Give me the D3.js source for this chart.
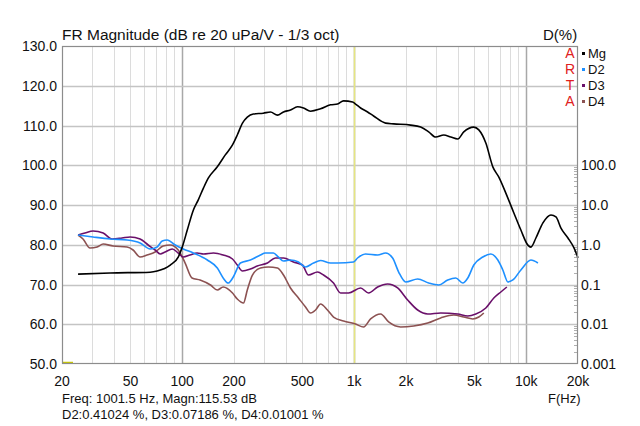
<!DOCTYPE html>
<html><head><meta charset="utf-8">
<script src="https://cdn.jsdelivr.net/npm/d3@7"></script>
<style>body{margin:0;background:#fff}svg{display:block}text{font-family:"Liberation Sans",Arial,sans-serif}</style>
</head><body><svg id="c" width="640" height="426"></svg>
<script>
// ---- data ----
const magFreq = [24.8,38.1,65.1,71.5,85.2,94.8,100,107,116,124,133,142,160,178,196,209,224,239,259,296,326,358,388,426,468,507,557,637,728,800,867,978,1018,1089,1196,1296,1522,1695,2129,2434,2710,2977,3315,3641,3999,4335,4957,5302,5823,6395,6931,7612,8476,9309,10224,10646,11386,12505,13926,14889,15921,17485,18952,20000];
const magDb = [72.6,72.9,73.1,73.4,74.9,76.9,79.4,83.7,88.7,91.3,94.3,96.8,99.6,102.6,105.1,107.6,110.6,112.1,112.9,113.1,113.4,112.6,113.4,113.9,114.7,114.4,113.6,114.2,115.2,115.4,116.2,115.9,115.4,114.4,113.4,112.4,110.6,110.4,110.1,109.6,108.4,107.1,107.6,107.1,106.6,108.4,109.6,108.9,105.6,99.6,97.0,93.0,88.0,83.7,79.9,79.4,81.7,85.5,87.5,87.0,84.2,81.7,79.2,76.7];

const d2Freq = [24.8,30.3,38.1,47.8,56.9,65.1,71.5,76.5,81.8,91.1,101.4,116,140,160,173,185,198,218,249,285,304,339,362,388,426,474,521,580,637,728,800,991,1046,1164,1368,1522,1672,1813,1991,2338,2710,3099,3498,3893,4277,4574,4957,5594,6227,6839,7312,7820,8364,9309,10646,11696];
const d2Pct = [1.76,1.57,1.40,1.32,1.11,0.782,0.878,1.24,1.32,0.986,0.782,0.620,0.413,0.260,0.146,0.109,0.154,0.347,0.413,0.552,0.620,0.620,0.492,0.390,0.413,0.368,0.276,0.347,0.40,0.347,0.347,0.368,0.464,0.585,0.552,0.620,0.464,0.206,0.116,0.138,0.109,0.0971,0.130,0.146,0.109,0.146,0.309,0.492,0.585,0.413,0.232,0.116,0.130,0.232,0.413,0.347];

const d3Freq = [24.8,27.2,30.3,34.7,39.1,44.7,49.8,56.9,63.4,69.6,74.5,79.6,87.5,94.8,101.4,111,122,133,152,173,196,209,224,249,273,313,348,388,443,500,542,612,663,758,833,927,1089,1212,1368,1564,1788,2045,2338,2674,3184,3999,4574,5093,5823,6481,7118,7715];
const d3Pct = [1.76,1.97,2.22,1.97,1.40,1.48,1.57,1.40,0.986,0.738,0.585,0.657,0.782,0.620,0.492,0.552,0.620,0.585,0.620,0.552,0.438,0.309,0.219,0.245,0.292,0.347,0.464,0.464,0.368,0.309,0.173,0.206,0.173,0.109,0.0611,0.0611,0.0817,0.0611,0.0865,0.103,0.0817,0.0407,0.0228,0.0181,0.0192,0.0181,0.0161,0.0181,0.0256,0.0457,0.0648,0.0865];

const d4Freq = [24.8,26.5,29.1,32.0,34.7,39.6,47.8,51.8,56.9,62.5,69.6,77.5,85.2,94.8,104,114,127,146,160,173,196,209,227,239,256,285,317,358,388,426,474,521,557,596,637,699,758,867,1018,1133,1245,1424,1585,1862,2217,2674,3184,3790,4335,4891,5302,5668];
const d4Pct = [1.76,1.40,0.828,0.878,1.04,0.930,0.878,0.738,0.492,0.552,0.657,0.930,0.986,0.738,0.347,0.146,0.130,0.0971,0.0727,0.0865,0.0611,0.0432,0.0342,0.0727,0.173,0.260,0.276,0.260,0.173,0.0817,0.0457,0.0272,0.0192,0.0228,0.0323,0.0228,0.0152,0.0121,0.0101,0.00853,0.0136,0.0181,0.0114,0.00853,0.00904,0.0107,0.0144,0.0171,0.0152,0.0136,0.0152,0.0192];

const xTickVals = [20,50,100,200,500,1000,2000,5000,10000,20000];
const xTickLabels = ["20","50","100","200","500","1k","2k","5k","10k","20k"];
const yTickVals = [50,60,70,80,90,100,110,120,130];
const pctTickVals = [0.001,0.01,0.1,1,10,100];
const pctTickLabels = ["0.001","0.01","0.1","1.0","10.0","100.0"];
const legendNames = ["Mg","D2","D3","D4"];
const cursorFreq = 1001.5;

// ---- layout ----
const L=62,R=578,T=46,B=364;
const svg=d3.select("#c");
const x=d3.scaleLog().domain([20,20000]).range([L,R]);
const y=d3.scaleLinear().domain([50,130]).range([B,T]);
const yp=d3.scaleLog().domain([0.001,100]).range([y(50),y(100)]);
const colors={Mg:"#000000",D2:"#1e90ff",D3:"#6a106a",D4:"#8c5252"};

// vertical grid
const minorF=[];
[10,100,1000,10000].forEach(dec=>{for(let k=1;k<10;k++){const f=dec*k;if(f>20&&f<20000)minorF.push(f);}});
svg.append("g").selectAll("line").data(minorF).join("line")
 .attr("x1",d=>Math.round(x(d))+0.5).attr("x2",d=>Math.round(x(d))+0.5).attr("y1",T).attr("y2",B)
 .attr("stroke",d=>[100,1000,10000].includes(d)?"#a8a8a8":"#dcdcdc").attr("stroke-width",d=>[100,1000,10000].includes(d)?1.5:1);
// horizontal grid
svg.append("g").selectAll("line").data(yTickVals.slice(1,-1)).join("line")
 .attr("x1",L).attr("x2",R).attr("y1",d=>Math.round(y(d))+0.5).attr("y2",d=>Math.round(y(d))+0.5)
 .attr("stroke","#c4c4c4").attr("stroke-width",1.5);
// right minor ticks (log %)
const pctMinor=[];
[0.001,0.01,0.1,1,10].forEach(dec=>{for(let k=2;k<10;k++)pctMinor.push(dec*k);});
svg.append("g").selectAll("line").data(pctMinor).join("line")
 .attr("x1",R-4).attr("x2",R).attr("y1",d=>Math.round(yp(d))+0.5).attr("y2",d=>Math.round(yp(d))+0.5)
 .attr("stroke","#b0b0b0").attr("stroke-width",1);

// cursor
svg.append("line").attr("x1",Math.round(x(cursorFreq))+0.5).attr("x2",Math.round(x(cursorFreq))+0.5)
 .attr("y1",T).attr("y2",B).attr("stroke","#e6e680").attr("stroke-width",1.5);
svg.append("line").attr("x1",L).attr("x2",L+11).attr("y1",B-1.5).attr("y2",B-1.5).attr("stroke","#c8c800").attr("stroke-width",1.5);

// curves
const lineMag=d3.line().x(d=>x(d[0])).y(d=>y(d[1])).curve(d3.curveMonotoneX);
const linePct=d3.line().x(d=>x(d[0])).y(d=>yp(d[1])).curve(d3.curveMonotoneX);
const series=[["D4",d4Freq,d4Pct],["D3",d3Freq,d3Pct],["D2",d2Freq,d2Pct]];
series.forEach(([n,f,v])=>{
 svg.append("path").datum(f.map((ff,i)=>[ff,v[i]])).attr("d",linePct).attr("fill","none")
  .attr("stroke",colors[n]).attr("stroke-width",1.6);
});
svg.append("path").datum(magFreq.map((f,i)=>[f,magDb[i]])).attr("d",lineMag).attr("fill","none")
 .attr("stroke","#000").attr("stroke-width",1.6);

// frame
svg.append("rect").attr("x",L+0.5).attr("y",T+0.5).attr("width",R-L-1).attr("height",B-T-1)
 .attr("fill","none").attr("stroke","#8c8c8c").attr("stroke-width",1.2);

// left axis labels
svg.append("g").selectAll("text").data(yTickVals).join("text")
 .attr("x",57).attr("y",d=>y(d)+5).attr("text-anchor","end").attr("font-size",14).attr("fill","#111")
 .text(d=>d.toFixed(1));
// right axis labels
svg.append("g").selectAll("text").data(pctTickVals).join("text")
 .attr("x",581).attr("y",d=>yp(d)+5).attr("font-size",14).attr("fill","#111")
 .text((d,i)=>pctTickLabels[i]);
// x axis labels
svg.append("g").selectAll("text").data(xTickVals).join("text")
 .attr("x",d=>x(d)).attr("y",386).attr("text-anchor","middle").attr("font-size",14).attr("fill","#111")
 .text((d,i)=>xTickLabels[i]);

// titles
svg.append("text").attr("x",62).attr("y",40).attr("font-size",15.5).attr("fill","#111").text("FR Magnitude (dB re 20 uPa/V - 1/3 oct)");
svg.append("text").attr("x",543).attr("y",40).attr("font-size",15).attr("fill","#111").text("D(%)");
svg.append("text").attr("x",548).attr("y",403).attr("font-size",13).attr("fill","#111").text("F(Hz)");
svg.append("text").attr("x",62).attr("y",403).attr("font-size",13).attr("fill","#111").text("Freq: 1001.5 Hz, Magn:115.53 dB");
svg.append("text").attr("x",62).attr("y",419).attr("font-size",13).attr("fill","#111").text("D2:0.41024 %, D3:0.07186 %, D4:0.01001 %");

// ARTA
svg.append("g").selectAll("text").data(["A","R","T","A"]).join("text")
 .attr("x",570).attr("y",(d,i)=>58+i*16).attr("text-anchor","middle").attr("font-size",14).attr("fill","#e02020").text(d=>d);
// legend
const lg=svg.append("g").selectAll("g").data(legendNames).join("g").attr("transform",(d,i)=>`translate(582,${53+i*16})`);
lg.append("rect").attr("x",0).attr("y",-1).attr("width",3).attr("height",3).attr("fill",d=>colors[d]);
lg.append("text").attr("x",6).attr("y",5).attr("font-size",13).attr("fill","#111").text(d=>d);
</script></body></html>
